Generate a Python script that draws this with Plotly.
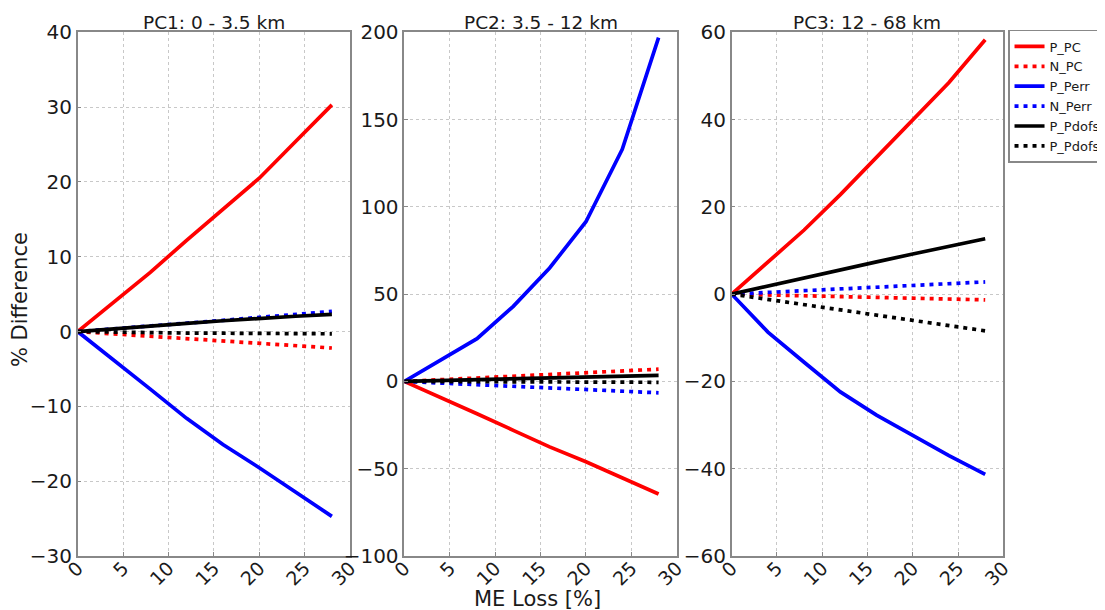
import plotly.graph_objects as go
from plotly.subplots import make_subplots

# ME loss levels (%)
me_loss = [0, 4, 8, 12, 16, 20, 24, 28]

# PC1: 0 - 3.5 km
pc1_p_pc = [0, 3.9, 7.9, 12.2, 16.3, 20.5, 25.4, 30.3]
pc1_n_pc = [0, -0.3, -0.6, -0.9, -1.2, -1.5, -1.85, -2.2]
pc1_p_perr = [0, -3.8, -7.7, -11.6, -15.1, -18.2, -21.5, -24.7]
pc1_n_perr = [0, 0.35, 0.75, 1.1, 1.5, 1.9, 2.3, 2.7]
pc1_p_pdofs = [0, 0.4, 0.75, 1.1, 1.45, 1.8, 2.05, 2.3]
pc1_n_pdofs = [0, -0.1, -0.15, -0.2, -0.22, -0.25, -0.28, -0.3]

# PC2: 3.5 - 12 km
pc2_p_pc = [0, -9, -18.5, -28, -37.5, -46, -55.5, -64.5]
pc2_n_pc = [0, 1, 2, 3, 4, 5, 6, 7]
pc2_p_perr = [0, 12, 24.5, 43, 65, 91.5, 133, 197]
pc2_n_perr = [0, -1, -2, -2.8, -3.7, -4.6, -5.6, -6.5]
pc2_p_pdofs = [0, 0.5, 1, 1.5, 2, 2.5, 3, 3.5]
pc2_n_pdofs = [0, -0.1, -0.2, -0.3, -0.35, -0.4, -0.45, -0.5]

# PC3: 12 - 68 km
pc3_p_pc = [0, 7.3, 14.7, 22.8, 31.3, 39.7, 48.5, 58.3]
pc3_n_pc = [0, -0.2, -0.4, -0.6, -0.75, -0.9, -1.1, -1.3]
pc3_p_perr = [0, -8.7, -15.6, -22.4, -27.7, -32.3, -37, -41.3]
pc3_n_perr = [0, 0.4, 0.8, 1.2, 1.6, 2.0, 2.4, 2.8]
pc3_p_pdofs = [0, 1.9, 3.8, 5.6, 7.4, 9.2, 11, 12.7]
pc3_n_pdofs = [0, -1.2, -2.4, -3.6, -4.8, -6, -7.2, -8.4]

titles = ["PC1: 0 - 3.5 km", "PC2: 3.5 - 12 km", "PC3: 12 - 68 km"]
y_ranges = [[-30, 40], [-100, 200], [-60, 60]]
y_dticks = [10, 50, 20]

panels = [
    [pc1_p_pc, pc1_n_pc, pc1_p_perr, pc1_n_perr, pc1_p_pdofs, pc1_n_pdofs],
    [pc2_p_pc, pc2_n_pc, pc2_p_perr, pc2_n_perr, pc2_p_pdofs, pc2_n_pdofs],
    [pc3_p_pc, pc3_n_pc, pc3_p_perr, pc3_n_perr, pc3_p_pdofs, pc3_n_pdofs],
]
names = ["P_PC", "N_PC", "P_Perr", "N_Perr", "P_Pdofs", "P_Pdofs"]
colors = ["#ff0000", "#ff0000", "#0000ff", "#0000ff", "#000000", "#000000"]
dashes = ["solid", "4px,5px", "solid", "4px,5px", "solid", "4px,5px"]
# draw order so black solid sits on top like the original
order = [0, 1, 2, 3, 5, 4]

fig = make_subplots(rows=1, cols=3)

for p, series in enumerate(panels):
    for i in order:
        fig.add_trace(go.Scatter(
            x=me_loss, y=series[i], mode="lines", name=names[i],
            line=dict(color=colors[i], width=3.7, dash=dashes[i]),
            showlegend=(p == 0), legendrank=i,
        ), row=1, col=p + 1)

# page body adds an 8px offset, so the figure is 1097x602
domains = [[0.0635, 0.3118], [0.3613, 0.6096], [0.6597, 0.9073]]
y_domain = [0.0897, 0.9596]
for p in range(3):
    fig.update_xaxes(
        domain=domains[p], range=[0, 30], dtick=5, tickangle=-45,
        showgrid=True, gridcolor="#c8c8c8", griddash="dot", gridwidth=1,
        showline=True, linecolor="#888888", linewidth=1.5, mirror=True,
        ticks="inside", ticklen=4, tickcolor="#888888",
        tickfont=dict(size=19, color="#1a1a1a"), zeroline=False,
        ticklabelstandoff=-8, automargin=False, row=1, col=p + 1,
    )
    fig.update_yaxes(
        domain=y_domain, range=y_ranges[p], dtick=y_dticks[p],
        showgrid=True, gridcolor="#c8c8c8", griddash="dot", gridwidth=1,
        showline=True, linecolor="#888888", linewidth=1.5, mirror=True,
        ticks="inside", ticklen=4, tickcolor="#888888",
        tickfont=dict(size=20, color="#1a1a1a"), zeroline=False,
        automargin=False, row=1, col=p + 1,
    )
    fig.add_annotation(
        text=titles[p], xref="paper", yref="paper",
        x=(domains[p][0] + domains[p][1]) / 2, y=y_domain[1], yshift=-3,
        xanchor="center", yanchor="bottom", showarrow=False,
        font=dict(size=18.5, color="#1a1a1a"),
    )

fig.add_annotation(text="% Difference", xref="paper", yref="paper",
                   x=0.011, y=0.515, xanchor="center", yanchor="middle",
                   textangle=-90, showarrow=False,
                   font=dict(size=21, color="#1a1a1a"))
fig.add_annotation(text="ME Loss [%]", xref="paper", yref="paper",
                   x=0.4824, y=0.0183, xanchor="center", yanchor="middle",
                   showarrow=False, font=dict(size=21, color="#1a1a1a"))

fig.update_layout(
    width=1097, height=602,
    margin=dict(l=0, r=0, t=0, b=0, autoexpand=False),
    paper_bgcolor="white", plot_bgcolor="white",
    font=dict(family="DejaVu Sans", color="#1a1a1a"),
    legend=dict(
        x=0.9116, y=0.9635, xanchor="left", yanchor="top",
        bordercolor="#888888", borderwidth=1.5, bgcolor="white",
        font=dict(size=13), tracegroupgap=0, itemwidth=30,
    ),
)

fig.write_html("out.html")
